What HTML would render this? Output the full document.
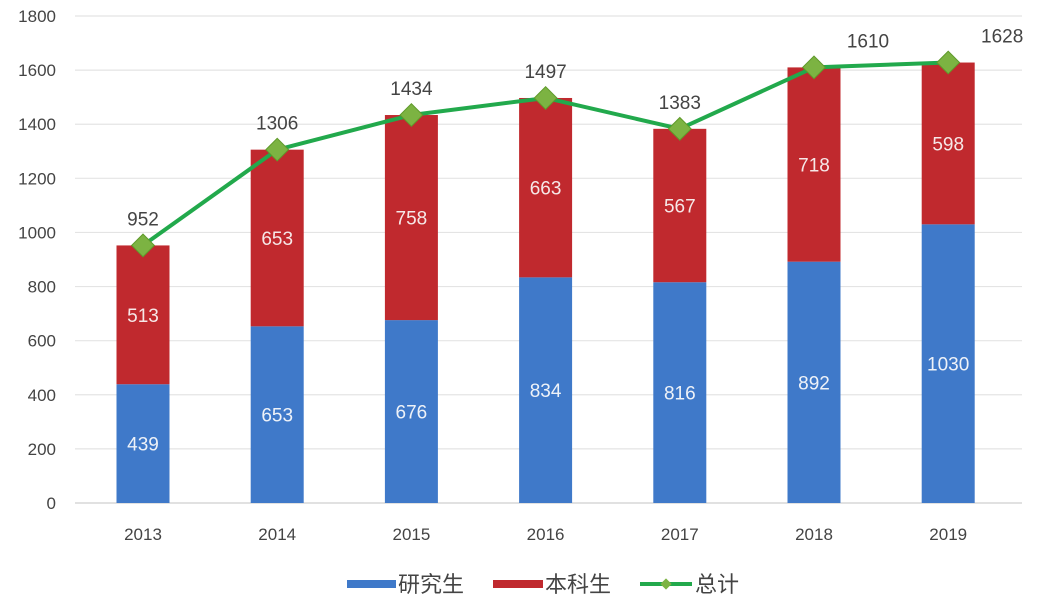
<!DOCTYPE html>
<html><head><meta charset="utf-8"><style>
body{margin:0;background:#fff;}
svg{display:block;font-family:"Liberation Sans","Noto Sans CJK SC",sans-serif;}
</style></head><body>
<svg id="chart" width="1041" height="605" viewBox="0 0 1041 605">
<g id="grid"></g>
<g id="yaxis"></g>
<g id="xaxis"></g>
<g id="bars"></g>
<g id="line"></g>
<g>
<rect x="347" y="580" width="49" height="8" fill="#3f79c9"/>
<text x="398" y="592" font-size="22" fill="#444">研究生</text>
<rect x="493" y="580" width="50" height="8" fill="#c0292e"/>
<text x="545" y="592" font-size="22" fill="#444">本科生</text>
<line x1="640" y1="584" x2="692" y2="584" stroke="#22a94c" stroke-width="4"/>
<rect x="662" y="580" width="8" height="8" fill="#7cb342" transform="rotate(45 666 584)"/>
<text x="695" y="592" font-size="22" fill="#444">总计</text>
</g>
</svg>
<script>
const categories=["2013","2014","2015","2016","2017","2018","2019"];
const graduate=[439,653,676,834,816,892,1030];
const undergrad=[513,653,758,663,567,718,598];
const total=[952,1306,1434,1497,1383,1610,1628];
const yTicks=[0,200,400,600,800,1000,1200,1400,1600,1800];
const NS="http://www.w3.org/2000/svg";
const y=v=>503-v*(487/1800);
const x=i=>143+i*134.2;
function mk(tag,attrs,parent){const e=document.createElementNS(NS,tag);for(const k in attrs)e.setAttribute(k,attrs[k]);parent.appendChild(e);return e;}
const grid=document.getElementById('grid'),ya=document.getElementById('yaxis'),xa=document.getElementById('xaxis'),bars=document.getElementById('bars'),line=document.getElementById('line');
yTicks.forEach(t=>{
 const g=mk('line',{x1:75,x2:1022,y1:y(t),y2:y(t),stroke:t===0?'#cfcfcf':'#e4e4e4','stroke-width':1.2},grid);
 
 
 const l=mk('text',{x:56,y:y(t)+6,'text-anchor':'end','font-size':17,fill:'#444'},ya);
 
 
 l.textContent=t;
});
categories.forEach((c,i)=>{
 const l=mk('text',{x:x(i),y:540,'text-anchor':'middle','font-size':17,fill:'#444'},xa);
 
 
 l.textContent=c;
 const w=53;
 const b1=mk('rect',{x:x(i)-w/2,y:y(graduate[i]),width:w,height:y(0)-y(graduate[i]),fill:'#3f79c9'},bars);
 
 
 const top=graduate[i]+undergrad[i];
 const b2=mk('rect',{x:x(i)-w/2,y:y(top),width:w,height:y(graduate[i])-y(top),fill:'#c0292e'},bars);
 
 
 const t1=mk('text',{x:x(i),y:y(graduate[i]/2)+7,'text-anchor':'middle','font-size':19,fill:'#eef2f8'},bars);
 
 
 t1.textContent=graduate[i];
 const t2=mk('text',{x:x(i),y:y(graduate[i]+undergrad[i]/2)+7,'text-anchor':'middle','font-size':19,fill:'#f6e8e8'},bars);
 
 
 t2.textContent=undergrad[i];
});
const pts=total.map((v,i)=>x(i)+','+y(v)).join(' ');
const pl=mk('polyline',{points:pts,fill:'none',stroke:'#22a94c','stroke-width':4,'stroke-linejoin':'round'},line);


total.forEach((v,i)=>{
 const d=mk('rect',{x:x(i)-8,y:y(v)-8,width:16,height:16,fill:'#7cb342',stroke:'#5f9a2a','stroke-width':1,transform:`rotate(45 ${x(i)} ${y(v)})`},line);
 
 
 const dx=i>=5?54:0;
 const t=mk('text',{x:x(i)+dx,y:y(v)-20,'text-anchor':'middle','font-size':19,fill:'#444'},line);
 
 
 t.textContent=v;
});
</script>
</body></html>
